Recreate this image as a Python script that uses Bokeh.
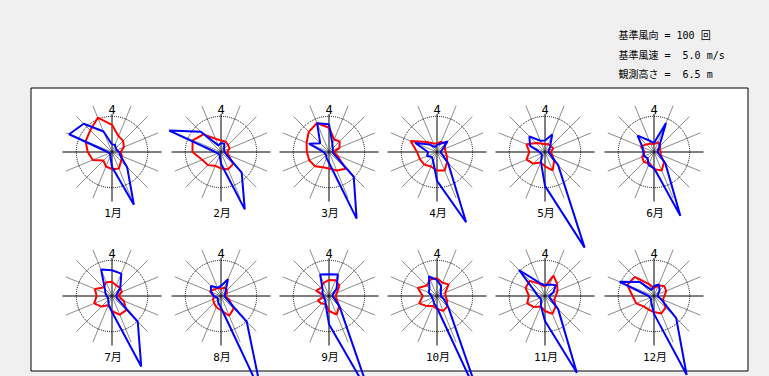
import math
from bokeh.plotting import figure
from bokeh.models import Range1d
from bokeh.core.properties import value
from bokeh.embed import file_html
from bokeh.resources import INLINE

# ---------------- data ----------------
DIRECTIONS = ["N", "NNE", "NE", "ENE", "E", "ESE", "SE", "SSE",
              "S", "SSW", "SW", "WSW", "W", "WNW", "NW", "NNW"]
MONTHS = ["1月", "2月", "3月", "4月", "5月", "6月",
          "7月", "8月", "9月", "10月", "11月", "12月"]
NORTH_MARK = "4"
INFO_LINES = ["基準風向 = 100 回", "基準風速 =\u00a0 5.0 m/s", "観測高さ =\u00a0 6.5 m"]
REF_COUNT = 100.0   # counts at the reference circle
REF_SPEED = 5.0     # m/s at the reference circle

# wind direction frequency (counts), 16 directions from N clockwise
freq_jan = [21, 22, 15, 14, 20, 25, 60, 160, 42, 12, 8, 8, 12, 130, 112, 62]
freq_feb = [25, 25, 12, 10, 10, 15, 82, 174, 33, 10, 8, 10, 16, 157, 80, 20]
freq_mar = [78, 25, 15, 12, 10, 15, 98, 202, 30, 18, 12, 12, 15, 60, 35, 87]
freq_apr = [20, 25, 42, 15, 10, 15, 44, 213, 81, 28, 20, 30, 25, 66, 30, 15]
freq_may = [32, 53, 20, 12, 10, 15, 52, 290, 95, 30, 12, 12, 15, 45, 62, 34]
freq_jun = [25, 88, 20, 12, 10, 15, 45, 193, 45, 40, 25, 30, 30, 35, 65, 35]
freq_jul = [72, 68, 33, 15, 12, 15, 102, 214, 45, 25, 15, 12, 15, 20, 28, 80]
freq_aug = [28, 51, 18, 12, 10, 15, 102, 298, 33, 20, 12, 12, 20, 30, 40, 25]
freq_sep = [61, 65, 30, 12, 10, 15, 42, 304, 79, 25, 15, 15, 15, 20, 25, 65]
freq_oct = [45, 30, 15, 12, 10, 20, 45, 330, 33, 22, 15, 15, 15, 25, 30, 59]
freq_nov = [30, 35, 43, 25, 12, 15, 52, 233, 70, 30, 15, 15, 20, 30, 103, 40]
freq_dec = [28, 35, 22, 12, 10, 20, 88, 239, 50, 20, 12, 12, 15, 104, 55, 18]

# mean wind speed (m/s), 16 directions from N clockwise
speed_jan = [3.8, 2.4, 2.2, 1.8, 1.2, 1.5, 1.8, 2.5, 2.4, 2.2, 1.7, 2.9, 3.4, 4.0, 4.3, 5.2]
speed_feb = [1.6, 1.6, 1.4, 1.3, 0.85, 1.15, 2.4, 2.6, 2.3, 2.1, 2.6, 2.85, 4.0, 4.3, 3.5, 2.0]
speed_mar = [3.4, 1.9, 2.1, 1.6, 0.7, 1.25, 3.3, 2.8, 2.3, 2.3, 2.8, 3.0, 3.1, 3.4, 4.0, 4.4]
speed_apr = [1.2, 1.55, 1.6, 1.2, 1.2, 1.5, 2.0, 2.8, 2.6, 2.2, 2.5, 2.6, 2.8, 4.0, 2.0, 1.3]
speed_may = [1.1, 1.2, 1.2, 1.25, 0.8, 1.1, 1.8, 2.8, 2.0, 1.6, 2.3, 2.8, 2.2, 2.8, 1.8, 1.3]
speed_jun = [1.1, 1.5, 1.2, 0.9, 0.95, 1.0, 2.0, 2.8, 2.4, 1.7, 2.0, 1.8, 1.3, 2.0, 1.5, 1.3]
speed_jul = [2.0, 1.6, 1.6, 1.5, 0.9, 1.8, 2.8, 2.85, 2.1, 1.4, 2.1, 2.7, 2.15, 2.6, 1.7, 2.1]
speed_aug = [1.0, 1.3, 1.15, 0.9, 0.5, 1.2, 2.5, 3.0, 2.0, 1.7, 1.4, 1.2, 1.0, 1.7, 1.3, 1.2]
speed_sep = [2.25, 2.4, 2.05, 1.2, 0.95, 1.15, 2.0, 2.8, 2.1, 1.2, 1.5, 1.7, 0.7, 1.95, 1.6, 2.0]
speed_oct = [2.5, 2.0, 2.3, 1.25, 1.2, 1.5, 2.05, 2.25, 1.8, 1.5, 2.0, 2.7, 2.0, 2.9, 2.05, 2.5]
speed_nov = [1.3, 3.1, 2.4, 1.9, 1.5, 1.4, 2.1, 2.7, 2.1, 1.6, 2.2, 2.7, 2.25, 2.95, 3.0, 1.85]
speed_dec = [1.1, 1.6, 2.0, 1.85, 1.45, 1.35, 2.3, 2.65, 2.25, 2.05, 2.05, 2.7, 3.0, 4.05, 3.8, 1.8]

FREQS = [freq_jan, freq_feb, freq_mar, freq_apr, freq_may, freq_jun,
         freq_jul, freq_aug, freq_sep, freq_oct, freq_nov, freq_dec]
SPEEDS = [speed_jan, speed_feb, speed_mar, speed_apr, speed_may, speed_jun,
          speed_jul, speed_aug, speed_sep, speed_oct, speed_nov, speed_dec]

# ---------------- layout ----------------
W, H = 769, 376
COL_X = [111.5, 220.5, 328.5, 436.5, 544.5, 653.5]
ROW_Y = [151.5, 295.5]
R = 35.7          # reference circle radius (px)
CROSS = 49.5
CROSS_TOP = 38.0
SPOKE = 50.0
FONT = value("'DejaVu Sans Mono', 'Noto Sans CJK JP'")

p = figure(width=W, height=H, x_range=Range1d(0, W), y_range=Range1d(H, 0),
           x_axis_type=None, y_axis_type=None, output_backend="svg",
           toolbar_location=None, min_border=0)
p.grid.visible = False
p.outline_line_color = None
p.background_fill_color = "#f0f0f0"
p.border_fill_color = "#f0f0f0"

# white panel
p.quad(left=[30.5], right=[747.5], top=[87.5], bottom=[370.5],
       fill_color="white", line_color="black", line_width=1)

# header text
p.text(x=[618] * 3, y=[35, 54.5, 73.5], text=INFO_LINES,
       text_font=FONT, text_font_size="10px", text_color="black",
       text_align="left", text_baseline="middle")

centers = [(COL_X[i % 6], ROW_Y[i // 6]) for i in range(12)]
angles = [math.radians(22.5 * k) for k in range(16)]

spoke_xs, spoke_ys = [], []
cross_xs, cross_ys = [], []
for cx, cy in centers:
    for k, a in enumerate(angles):
        if k % 4 == 0:
            continue
        spoke_xs.append([cx, cx + SPOKE * math.sin(a)])
        spoke_ys.append([cy, cy - SPOKE * math.cos(a)])
    cross_xs += [[cx - CROSS, cx + CROSS], [cx, cx]]
    cross_ys += [[cy, cy], [cy - CROSS_TOP, cy + CROSS]]

p.multi_line(spoke_xs, spoke_ys, line_color="#8c8c8c", line_width=1)
p.multi_line(cross_xs, cross_ys, line_color="black", line_width=1)
p.circle(x=[c[0] for c in centers], y=[c[1] for c in centers], radius=R,
         fill_color=None, line_color="black", line_width=1, line_dash="1 1")


def polygon(vals, ref, cx, cy):
    xs, ys = [], []
    for v, a in zip(vals, angles):
        r = v / ref * R
        xs.append(cx + r * math.sin(a))
        ys.append(cy - r * math.cos(a))
    return xs + xs[:1], ys + ys[:1]


red_xs, red_ys, blue_xs, blue_ys = [], [], [], []
for (cx, cy), fr, sp in zip(centers, FREQS, SPEEDS):
    bx, by = polygon(fr, REF_COUNT, cx, cy)
    rx, ry = polygon(sp, REF_SPEED, cx, cy)
    blue_xs.append(bx); blue_ys.append(by)
    red_xs.append(rx); red_ys.append(ry)

p.multi_line(red_xs, red_ys, line_color="#ff0000", line_width=2)
p.multi_line(blue_xs, blue_ys, line_color="#0000ff", line_width=2)

# north marks and month labels
p.text(x=[c[0] for c in centers], y=[c[1] - 43 for c in centers],
       text=[NORTH_MARK] * 12, text_font=FONT, text_font_size="12px",
       text_align="center", text_baseline="middle", text_color="black")
p.text(x=[c[0] + 1 for c in centers], y=[c[1] + 61.5 for c in centers],
       text=MONTHS, text_font=FONT, text_font_size="11px",
       text_align="center", text_baseline="middle", text_color="black")

html = file_html(p, INLINE, title="wind rose")
html = html.replace(
    "</head>",
    "<style>html,body{margin:0;padding:0;background:#f0f0f0;overflow:hidden}</style></head>", 1)
open("out.html", "w").write(html)
